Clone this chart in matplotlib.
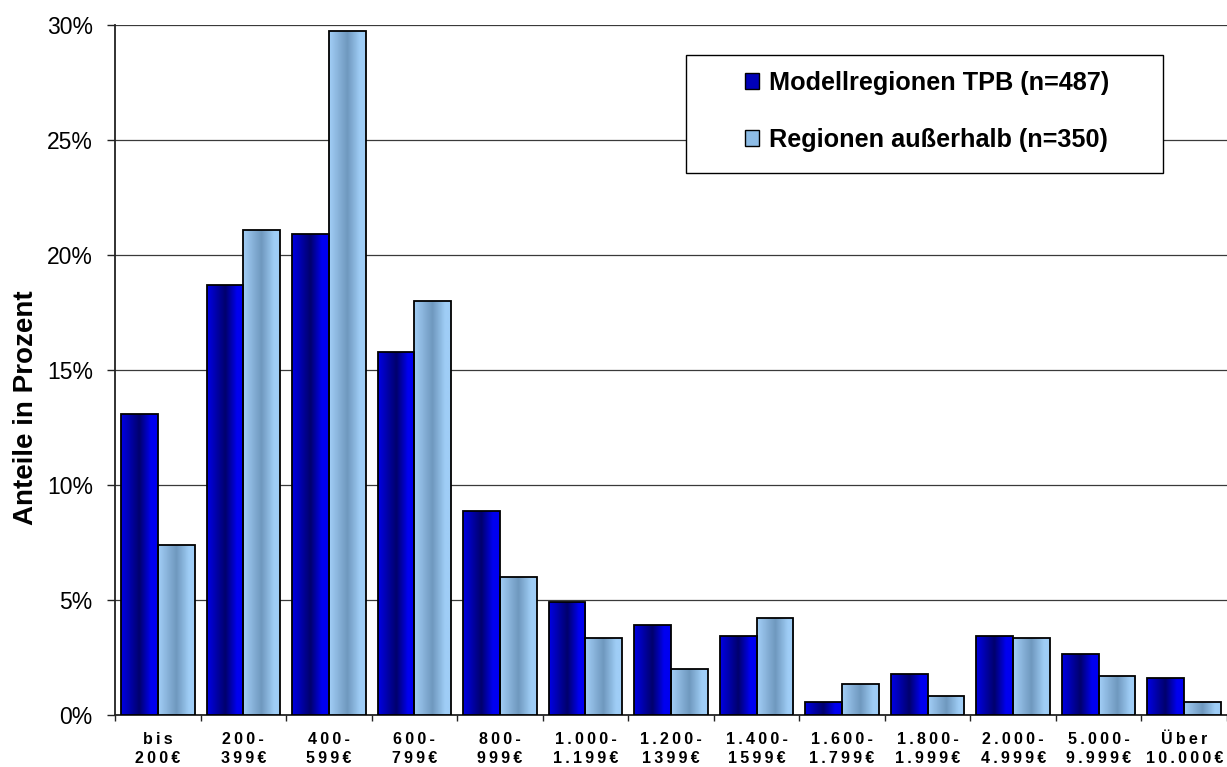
import numpy as np
import matplotlib
matplotlib.use("Agg")
import matplotlib.pyplot as plt
from matplotlib.colors import LinearSegmentedColormap
from matplotlib.patches import Rectangle, Patch
from matplotlib.ticker import FuncFormatter, MultipleLocator

categories = ["bis\n200€", "200-\n399€", "400-\n599€", "600-\n799€", "800-\n999€",
              "1.000-\n1.199€", "1.200-\n1399€", "1.400-\n1599€", "1.600-\n1.799€",
              "1.800-\n1.999€", "2.000-\n4.999€", "5.000-\n9.999€", "Über\n10.000€"]
modell = [13.1, 18.7, 20.9, 15.8, 8.85, 4.9, 3.9, 3.45, 0.57, 1.8, 3.45, 2.67, 1.6]
ausser = [7.4, 21.1, 29.75, 18.0, 6.0, 3.35, 1.98, 4.22, 1.36, 0.83, 3.35, 1.7, 0.57]
series_labels = ["Modellregionen TPB (n=487)", "Regionen außerhalb (n=350)"]

FONT = ["Liberation Sans", "DejaVu Sans"]
plt.rcParams["font.family"] = FONT

W, H = 1227, 767
fig = plt.figure(figsize=(W / 100, H / 100), dpi=100)
ax = fig.add_axes([115 / W, 1 - 715 / H, (1227 - 115) / W, (715 - 25) / H])

x = np.arange(len(categories))
bw = 0.43

dark_cmap = LinearSegmentedColormap.from_list(
    "dark", [(0.0, "#0000E4"), (0.5, "#00006C"), (0.82, "#0000F0"), (1.0, "#0000F0")])
light_cmap = LinearSegmentedColormap.from_list(
    "light", [(0.0, "#A2CEF6"), (0.5, "#6F98BE"), (0.85, "#9FCDF6"), (1.0, "#9FCDF6")])
grad = np.linspace(0, 1, 64).reshape(1, -1)

def grad_bars(xpos, vals, cmap):
    bars = ax.bar(xpos, vals, width=bw, facecolor="none", edgecolor="black",
                  linewidth=1.3, zorder=4)
    for b in bars:
        x0, y0 = b.get_x(), b.get_y()
        im = ax.imshow(grad, cmap=cmap, aspect="auto", interpolation="bilinear",
                       extent=[x0, x0 + b.get_width(), y0, y0 + b.get_height()],
                       zorder=3)
        im.set_clip_path(b)
    return bars

grad_bars(x - bw / 2, modell, dark_cmap)
grad_bars(x + bw / 2, ausser, light_cmap)

ax.set_xlim(-0.5, len(categories) - 0.5)
ax.set_ylim(0, 30)
ax.yaxis.set_major_locator(MultipleLocator(5))
ax.yaxis.set_major_formatter(FuncFormatter(lambda v, p: f"{v:.0f}%"))
ax.grid(axis="y", color="#3a3a3a", linewidth=0.9, zorder=0)
ax.set_axisbelow(True)

for s in ["top", "right"]:
    ax.spines[s].set_visible(False)
ax.spines["left"].set_color("#222222")
ax.spines["left"].set_linewidth(1.3)
ax.spines["bottom"].set_color("#222222")
ax.spines["bottom"].set_linewidth(1.3)

ax.tick_params(axis="y", direction="out", length=6, width=1, pad=10,
               labelsize=16.5, color="#222222")

def spaced(s):
    return "\n".join("\u2009".join(line) for line in s.split("\n"))

ax.set_xticks(x)
ax.set_xticklabels([spaced(c) for c in categories], fontsize=11.5,
                   fontweight="bold", linespacing=1.35)
ax.tick_params(axis="x", which="major", length=0, pad=12)
ax.set_xticks(np.arange(-0.5, len(categories), 1.0), minor=True)
ax.tick_params(axis="x", which="minor", direction="out", length=4, width=1,
               color="#222222")

fig.text(26 / W, 1 - 408 / H, "Anteile in Prozent", rotation=90, fontsize=20,
         fontweight="bold", ha="center", va="center")

# legend box
rect = Rectangle((686 / W, 1 - 173 / H), (1163 - 686) / W, (173 - 55) / H,
                 transform=fig.transFigure, facecolor="white", edgecolor="black",
                 linewidth=1.0, zorder=5, clip_on=False)
ax.add_artist(rect)
handles = [Patch(facecolor="#0000B8", edgecolor="black", linewidth=1.0),
           Patch(facecolor="#8DBCE6", edgecolor="black", linewidth=1.0)]
leg = ax.legend(handles, series_labels, loc="upper left",
                bbox_to_anchor=(745 / W, 1 - 71 / H), bbox_transform=fig.transFigure,
                frameon=False, borderpad=0, borderaxespad=0,
                prop={"family": FONT, "weight": "bold", "size": 18.2},
                handlelength=0.55, handleheight=0.55, handletextpad=0.4,
                labelspacing=1.3)
leg.set_zorder(6)

fig.savefig("out.png", dpi=100)
